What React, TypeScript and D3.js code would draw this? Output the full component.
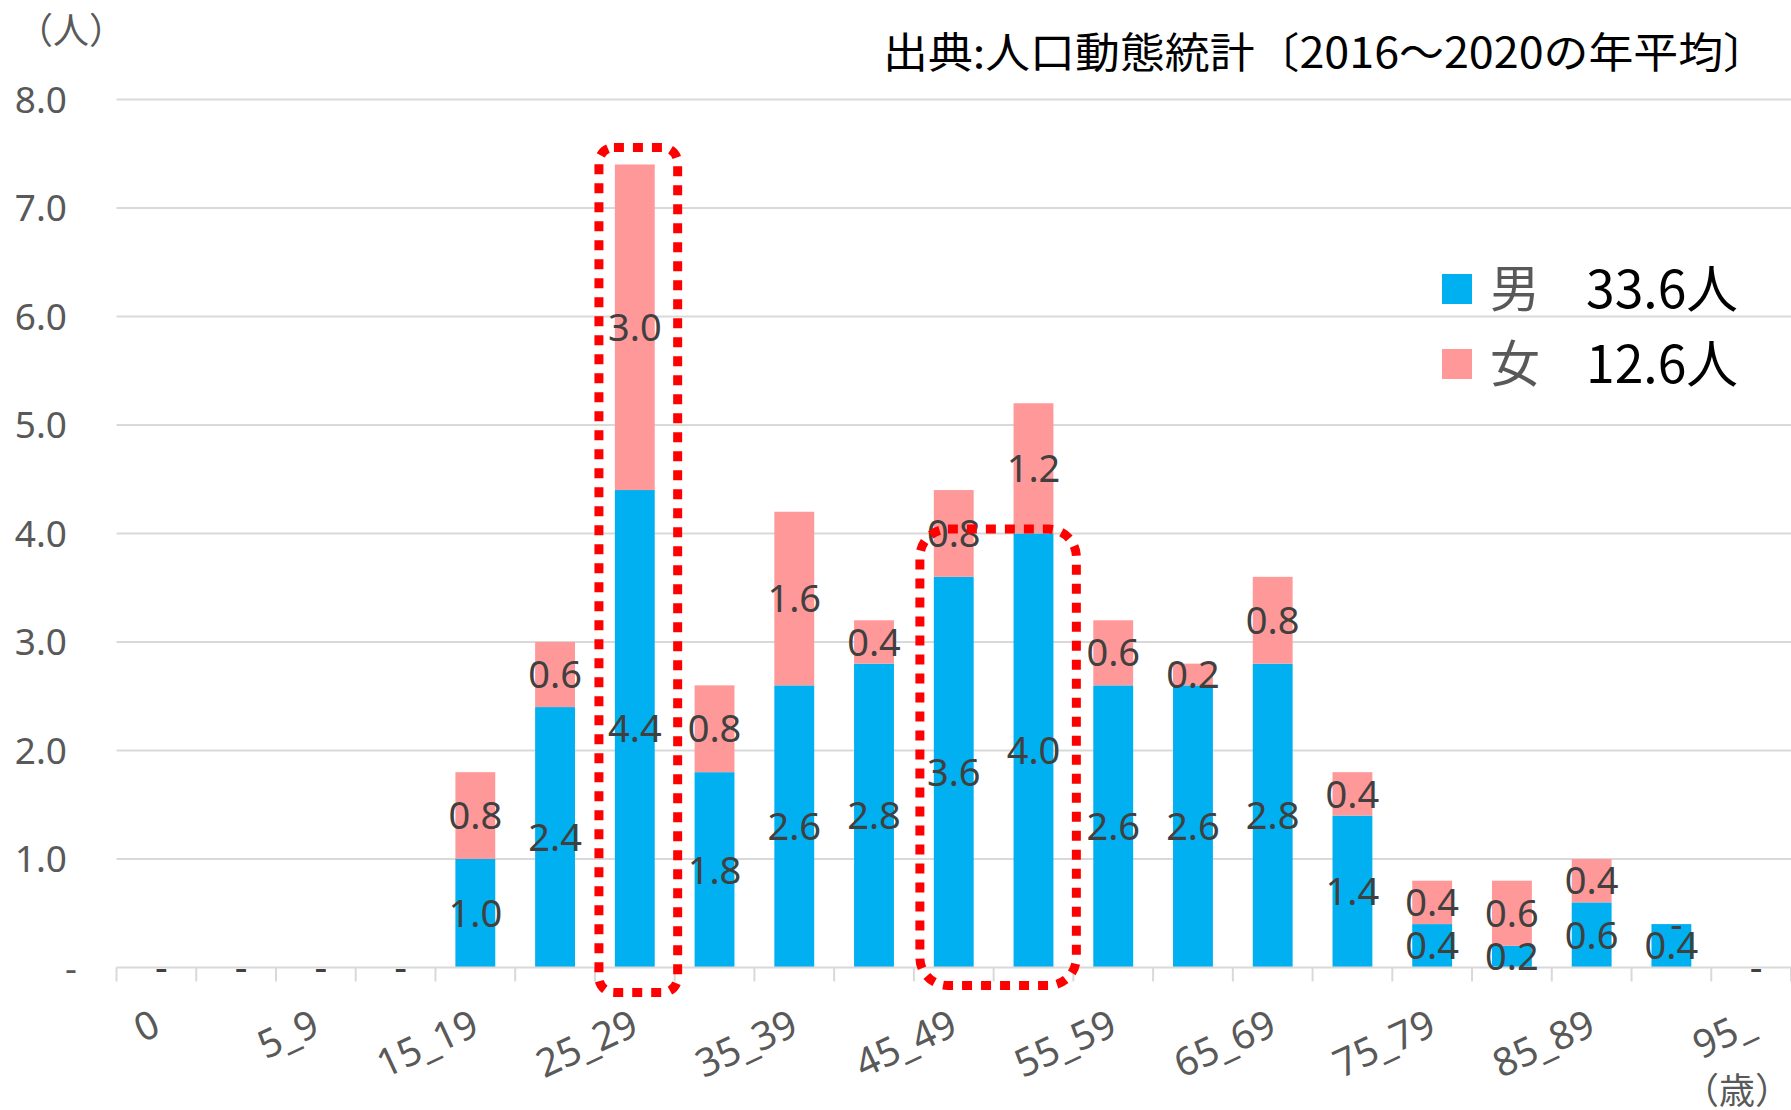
import * as d3 from 'd3'
import React from 'react'

const categories = ['0', '1_4', '5_9', '10_14', '15_19', '20_24', '25_29', '30_34', '35_39', '40_44', '45_49', '50_54', '55_59', '60_64', '65_69', '70_74', '75_79', '80_84', '85_89', '90_94', '95_']
const male = [0, 0, 0, 0, 1.0, 2.4, 4.4, 1.8, 2.6, 2.8, 3.6, 4.0, 2.6, 2.6, 2.8, 1.4, 0.4, 0.2, 0.6, 0.4, 0]
const female = [0, 0, 0, 0, 0.8, 0.6, 3.0, 0.8, 1.6, 0.4, 0.8, 1.2, 0.6, 0.2, 0.8, 0.4, 0.4, 0.6, 0.4, 0, 0]
const yTicks = [0, 1, 2, 3, 4, 5, 6, 7, 8]
const legendItems = [
  { key: 'male', label: '男', total: '33.6人' },
  { key: 'female', label: '女', total: '12.6人' },
]
const highlightGroups = [['25_29'], ['45_49', '50_54']]

const colors: Record<string, string> = { male: '#00B0F0', female: '#FF9999' }
const W = 1791
const H = 1110
const plot = { left: 116.5, right: 1791, top: 99.4, bottom: 967.5 }
const jpFont = '"Noto Sans CJK JP", sans-serif'
const numFont = '"Noto Sans", sans-serif'

const fmt = (v: number) => (v === 0 ? '-' : v.toFixed(1))

export default function App() {
  const rows = categories.map((c, i) => ({ cat: c, male: male[i], female: female[i] }))
  const stack = d3.stack<any>().keys(['male', 'female'])(rows)

  const x = d3.scaleBand().domain(categories).range([plot.left, plot.right]).paddingInner(0.5).paddingOuter(0.25)
  const y = d3.scaleLinear().domain([0, 8]).range([plot.bottom, plot.top])
  const step = x.step()
  const bw = x.bandwidth()
  const bandStart = (c: string) => (x(c) as number) - step * 0.25
  const cx = (c: string) => (x(c) as number) + bw / 2

  return (
    <svg width={W} height={H} style={{ position: 'absolute', left: 0, top: 0, background: '#fff' }}>
      {/* grid */}
      {yTicks.filter((t) => t > 0).map((t) => (
        <line key={`g${t}`} x1={plot.left} x2={plot.right} y1={y(t)} y2={y(t)} stroke='#d9d9d9' strokeWidth={2} />
      ))}
      {yTicks.map((t) => (
        <text
          key={`yt${t}`}
          x={t === 0 ? 77 : 67}
          y={y(t)}
          dy='0.36em'
          textAnchor='end'
          fontFamily={numFont}
          fontSize={37}
          fill='#595959'
        >
          {fmt(t)}
        </text>
      ))}
      <text x={71} y={44} textAnchor='middle' fontFamily={jpFont} fontSize={36} fill='#595959'>（人）</text>

      {/* bars */}
      {stack.map((s) => (
        <g key={s.key}>
          {s.map((d, i) => (
            <rect
              key={i}
              x={x(categories[i])}
              y={y(d[1])}
              width={bw}
              height={y(d[0]) - y(d[1])}
              fill={colors[s.key]}
            />
          ))}
        </g>
      ))}

      {/* x axis */}
      <line x1={plot.left} x2={plot.right} y1={plot.bottom} y2={plot.bottom} stroke='#d9d9d9' strokeWidth={2} />
      {d3.range(categories.length + 1).map((i) => (
        <line
          key={`tk${i}`}
          x1={plot.left + i * step}
          x2={plot.left + i * step}
          y1={plot.bottom}
          y2={plot.bottom + 14}
          stroke='#d9d9d9'
          strokeWidth={2}
        />
      ))}
      {categories.map((c, i) =>
        i % 2 === 0 ? (
          <text
            key={`xl${c}`}
            transform={`translate(${cx(c) + 6}, ${plot.bottom + 66}) rotate(-25)`}
            textAnchor='end'
            fontFamily={numFont}
            fontSize={39}
            fill='#595959'
          >
            {c}
          </text>
        ) : null
      )}
      <text x={1737} y={1104} textAnchor='middle' fontFamily={jpFont} fontSize={36} fill='#595959'>（歳）</text>

      {/* data labels */}
      {stack.map((s) => (
        <g key={`lab-${s.key}`}>
          {s.map((d, i) => {
            const v = d[1] - d[0]
            return (
              <text
                key={i}
                x={cx(categories[i]) + (v === 0 ? 5 : 0)}
                y={y((d[0] + d[1]) / 2)}
                dy='0.36em'
                textAnchor='middle'
                fontFamily={numFont}
                fontSize={38}
                fill='#404040'
              >
                {fmt(v)}
              </text>
            )
          })}
        </g>
      ))}

      {/* highlight boxes */}
      {highlightGroups.map((g, k) => {
        const first = g[0]
        const last = g[g.length - 1]
        const top = d3.max(g, (c) => male[categories.indexOf(c)] + female[categories.indexOf(c)]) as number
        const x0 = bandStart(first) + (k === 0 ? 4 : 6)
        const x1 = bandStart(last) + step + 3
        const y0 = k === 0 ? y(top) - 17 : y(4.04)
        const y1 = plot.bottom + (k === 0 ? 25 : 18)
        return (
          <rect
            key={`hb${k}`}
            x={x0}
            y={y0}
            width={x1 - x0}
            height={y1 - y0}
            rx={k === 0 ? 15 : 28}
            fill='none'
            stroke='#FF0000'
            strokeWidth={9}
            strokeDasharray='10 9'
          />
        )
      })}

      {/* title */}
      <text
        x={883}
        y={68}
        fontFamily={jpFont}
        fontSize={42}
        fill='#000'
        textLength={885}
        lengthAdjust='spacingAndGlyphs'
      >
        出典:人口動態統計〔2016～2020の年平均〕
      </text>

      {/* legend */}
      {legendItems.map((l, i) => {
        const cy = 289 + i * 75
        return (
          <g key={l.key}>
            <rect x={1442} y={cy - 15} width={30} height={30} fill={colors[l.key]} />
            <text x={1490} y={cy} dy='0.36em' fontFamily={jpFont} fontSize={50} fill='#595959'>
              {l.label}
            </text>
            <text
              x={1586}
              y={cy}
              dy='0.36em'
              fontFamily={jpFont}
              fontSize={52}
              fill='#000'
              textLength={152}
              lengthAdjust='spacingAndGlyphs'
            >
              {l.total}
            </text>
          </g>
        )
      })}
    </svg>
  )
}
